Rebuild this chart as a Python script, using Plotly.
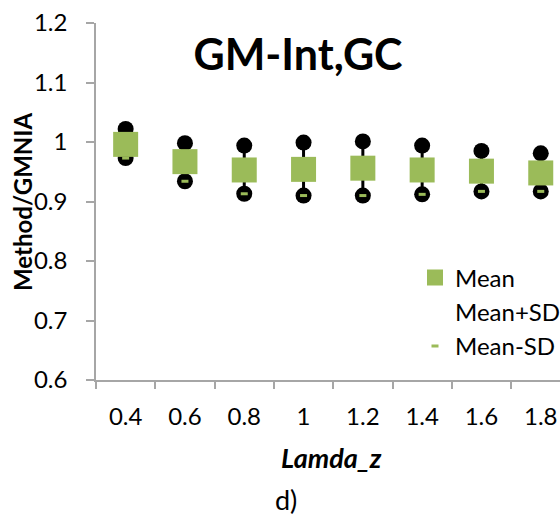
import plotly.graph_objects as go

categories = ["0.4", "0.6", "0.8", "1", "1.2", "1.4", "1.6", "1.8"]
mean_vals = [0.996, 0.967, 0.953, 0.954, 0.956, 0.953, 0.951, 0.948]
mean_plus_sd = [1.022, 0.998, 0.994, 0.999, 1.001, 0.994, 0.985, 0.981]
mean_minus_sd = [0.973, 0.934, 0.913, 0.910, 0.910, 0.912, 0.917, 0.917]

GREEN = "#9bbb59"
AXIS = "#a6a6a6"
FONT = "Lato"

W, H = 560, 517
L, R, T, B = 96, 0, 23, 137
PW, PH = W - L - R, H - T - B


def px(xpage):
    return (xpage - L) / PW


def py(ypage):
    return (H - B - ypage) / PH


# vertical connectors
lx, ly = [], []
for c, hi, lo in zip(categories, mean_plus_sd, mean_minus_sd):
    lx += [c, c, None]
    ly += [hi, lo, None]

fig = go.Figure()
fig.add_trace(go.Scatter(x=lx, y=ly, mode="lines", line=dict(color="black", width=3),
                         showlegend=False, hoverinfo="skip"))
fig.add_trace(go.Scatter(x=categories, y=mean_plus_sd, mode="markers",
                         marker=dict(symbol="circle", size=16, color="black"),
                         showlegend=False))
fig.add_trace(go.Scatter(x=categories, y=mean_minus_sd, mode="markers",
                         marker=dict(symbol="circle", size=16, color="black"),
                         showlegend=False))
fig.add_trace(go.Scatter(x=categories, y=mean_vals, mode="markers", name="Mean",
                         legendgroup="a",
                         marker=dict(symbol="square", size=25, color=GREEN)))
fig.add_trace(go.Scatter(x=categories, y=mean_plus_sd, mode="markers", name="Mean+SD",
                         legendgroup="b",
                         marker=dict(symbol="circle", size=1, color="rgba(0,0,0,0)")))
fig.add_trace(go.Scatter(x=categories, y=mean_minus_sd, mode="markers", name="Mean-SD",
                         legendgroup="c",
                         marker=dict(symbol="line-ew", size=5, color=GREEN,
                                     line=dict(color=GREEN, width=3))))

# category width in px is ~59.3, so visible range ends at -0.5 + PW/59.3
x_end = -0.5 + PW / 59.3

fig.update_layout(
    width=W, height=H,
    margin=dict(l=L, r=R, t=T, b=B, autoexpand=False),
    paper_bgcolor="white", plot_bgcolor="white",
    font=dict(family=FONT, size=24, color="black"),
    title=dict(text="<b>GM-Int,GC</b>", x=298 / W, xanchor="center",
               y=1 - 54.5 / H, yanchor="middle",
               font=dict(family=FONT, size=43, color="black")),
    showlegend=True,
    legend=dict(x=px(415), y=py(255.5), xanchor="left", yanchor="top",
                bgcolor="rgba(0,0,0,0)", font=dict(family=FONT, size=24),
                traceorder="grouped", tracegroupgap=0, itemsizing="trace"),
    xaxis=dict(type="category", categoryorder="array", categoryarray=categories,
               range=[-0.5, x_end], showgrid=False, showline=True, automargin=False,
               linecolor=AXIS, linewidth=1.5, ticks="outside",
               tickson="boundaries", ticklen=7, tickcolor=AXIS, tickwidth=1.5,
               ticklabelstandoff=14, ticklabeloverflow="allow",
               tickfont=dict(family=FONT, size=24), zeroline=False),
    yaxis=dict(range=[0.6, 1.2], dtick=0.1, tick0=0.6, showgrid=False, automargin=False,
               showline=True, linecolor=AXIS, linewidth=1.5,
               ticks="outside", ticklen=8, tickcolor=AXIS, tickwidth=1.5,
               ticklabelstandoff=14, ticklabeloverflow="allow",
               tickfont=dict(family=FONT, size=24), zeroline=False,
               tickformat="~g"),
)
fig.add_annotation(text="<b><i>Lamda_z</i></b>", xref="paper", yref="paper",
                   x=px(331.5), y=py(457), xanchor="center", yanchor="middle",
                   showarrow=False, font=dict(family=FONT, size=27, color="black"))
fig.add_annotation(text="<b>Method/GMNIA</b>", xref="paper", yref="paper",
                   x=px(22), y=py(202), xanchor="center", yanchor="middle",
                   textangle=-90,
                   showarrow=False, font=dict(family=FONT, size=24, color="black"))
fig.add_annotation(text="d)", xref="paper", yref="paper", x=px(285.5),
                   y=py(499), xanchor="center", yanchor="middle",
                   showarrow=False, font=dict(family=FONT, size=27, color="black"))

fig.write_html(
    "out.html",
    config={"displayModeBar": False},
    post_script="document.body.style.margin='0';document.body.style.overflow='hidden';",
)
